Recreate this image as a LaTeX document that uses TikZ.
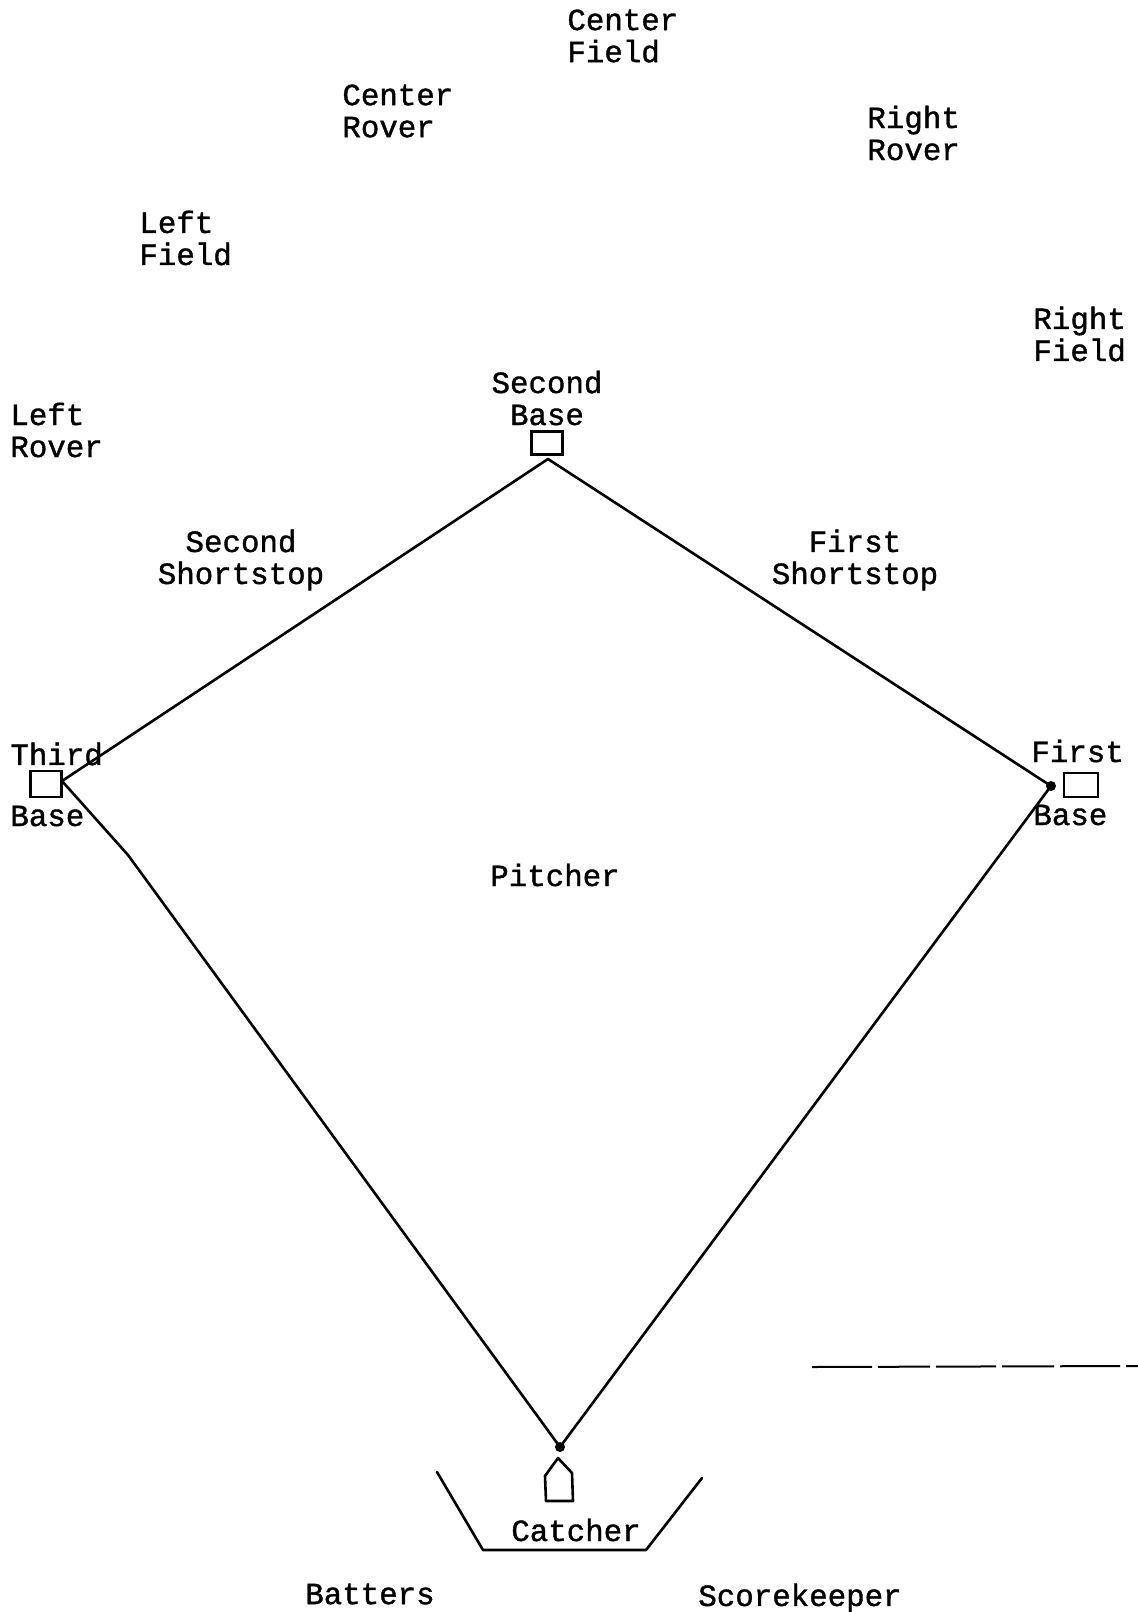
\documentclass[tikz,border=0pt]{standalone}
\usepackage{fontspec}
\setmonofont[FakeBold=1.2]{Liberation Mono}
\usepackage{tikz}

\tikzset{
  etiqueta/.style={font=\ttfamily\fontsize{15.4pt}{16pt}\selectfont, inner sep=0pt, align=center},
  basebox/.style={draw, line width=1.2pt, inner sep=0pt},
  linea/.style={line width=1.3pt, line join=round, line cap=round}
}

\begin{document}
\begin{tikzpicture}[x=0.5pt,y=-0.5pt]
    \useasboundingbox (0,0) rectangle (1138,1612);

    % Jardineros y rovers
    \node[etiqueta, anchor=west, align=left] (cf) at (567,36) {Center\\Field};
    \node[etiqueta, anchor=west, align=left] (cr) at (342,111) {Center\\Rover};
    \node[etiqueta, anchor=west, align=left] (rr) at (867,133) {Right\\Rover};
    \node[etiqueta, anchor=west, align=left] (lf) at (139,238) {Left\\Field};
    \node[etiqueta, anchor=west, align=left] (rf) at (1033,334) {Right\\Field};
    \node[etiqueta, anchor=west, align=left] (lr) at (10,430) {Left\\Rover};

    % Bases
    \node[etiqueta] (sbl) at (547,398) {Second\\Base};
    \node[basebox, minimum width=15.5pt, minimum height=11.5pt] (sb) at (547,443) {};
    \node[etiqueta, anchor=west] (tbl) at (10,754) {Third};
    \node[etiqueta, anchor=west] (tbl2) at (10,816) {Base};
    \node[basebox, minimum width=15.5pt, minimum height=13pt] (tb) at (46,784) {};
    \node[etiqueta, anchor=west] (fbl) at (1031,751) {First};
    \node[etiqueta, anchor=west] (fbl2) at (1033,815) {Base};
    \node[basebox, minimum width=17pt, minimum height=12pt] (fb) at (1081,785) {};

    % Cuadro interior
    \node[etiqueta] (ss2) at (241,560) {Second\\Shortstop};
    \node[etiqueta] (ss1) at (855,560) {First\\Shortstop};
    \node[etiqueta] (p) at (555,875) {Pitcher};

    % Vertices del diamante
    \coordinate (v2) at (548,459);
    \coordinate (v3) at (62,781);
    \coordinate (v1) at (1051,786);
    \coordinate (vh) at (560,1447);
    \coordinate (k3) at (128,855);

    % Dibuja el diamante
    \draw[linea] (v3) -- (v2) -- (v1) -- (vh) -- (k3) -- (v3);
    \fill (v1) circle (2.5pt);
    \fill (vh) circle (2.5pt);

    % Home y caja de bateo
    \draw[linea] (558,1458) -- (572,1473) -- (573,1501) -- (546,1501) -- (545,1476) -- cycle;
    \draw[linea] (437,1472) -- (483,1550) -- (646,1550) -- (702,1478);
    \node[etiqueta] (c) at (576,1530) {Catcher};
    \node[etiqueta] (bt) at (370,1594) {Batters};
    \node[etiqueta] (sk) at (800,1598) {Scorekeeper};

    % Linea suelta
    \draw[line width=1pt, dash pattern=on 30pt off 3pt on 26pt off 3pt] (812,1367) -- (1138,1366);
\end{tikzpicture}
\end{document}
